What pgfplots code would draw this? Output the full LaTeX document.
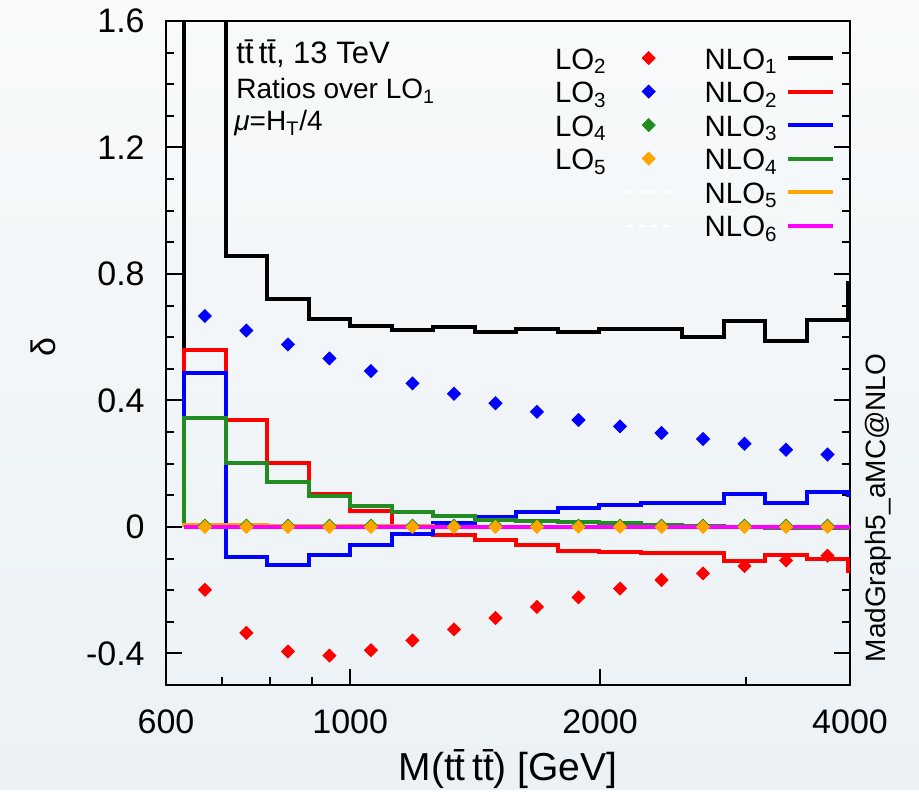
\documentclass[border=0pt]{standalone}
\usepackage{fontspec}
\setmainfont{Liberation Sans}
\usepackage{pgfplots}
\pgfplotsset{compat=1.18}

\definecolor{bgtop}{RGB}{248,250,251}
\definecolor{bgbot}{RGB}{235,241,245}
\definecolor{fgreen}{RGB}{34,139,34}
\definecolor{orng}{RGB}{255,165,0}
\definecolor{mag}{RGB}{255,0,255}

\pgfplotsset{
  lo/.style={only marks, mark=square*, mark size=2.3bp, mark options={rotate=45}},
  nlo/.style={const plot, line width=2bp,
    legend image code/.code={\draw[##1] (0bp,0bp) -- (22.5bp,0bp);}},
  blank/.style={white, dashed, line width=1bp,
    legend image code/.code={\draw[##1] (-2.5bp,0bp) -- (19.5bp,0bp);}},
}

\begin{document}
\begin{tikzpicture}
% page background, 1 px of the reference = 0.5bp
\shade[top color=bgtop, bottom color=bgbot] (-83bp,-52bp) rectangle (376.5bp,342.5bp);

\begin{axis}[
  scale only axis, width=342bp, height=332bp,
  xmode=log, xmin=600, xmax=4000, ymin=-0.5, ymax=1.6,
  xtick={600,1000,2000,4000}, xticklabels={600,1000,2000,4000},
  minor xtick={700,800,900,3000},
  ytick={-0.4,0,0.4,0.8,1.2,1.6}, yticklabels={-0.4,0,0.4,0.8,1.2,1.6},
  minor ytick={-0.3,-0.2,-0.1,0.1,0.2,0.3,0.5,0.6,0.7,0.9,1.0,1.1,1.3,1.4,1.5},
  xtick pos=left, ytick pos=both, yticklabel pos=left,
  tick align=inside,
  major tick length=8bp, minor tick length=4bp,
  axis line style={line width=1.2bp},
  every tick/.style={black, line width=1bp},
  tick label style={font=\fontsize{17bp}{20bp}\selectfont, inner sep=0pt},
  xticklabel style={anchor=base, yshift=-24bp},
  yticklabel style={anchor=east, xshift=-10.5bp},
  legend columns=6, transpose legend, legend plot pos=right, legend cell align=right,
  legend style={draw=none, fill=none, inner sep=0pt, at={(0.978,0.970)}, anchor=north east,
    font=\fontsize{14.7bp}{17.5bp}\selectfont,
    nodes={inner sep=0pt, text height=14bp, text depth=2.75bp},
    /tikz/column 1/.append style={column sep=9.5bp},
    /tikz/column 2/.append style={column sep=16.5bp},
    /tikz/column 3/.append style={column sep=4bp}},
]

% LO ratios, at bin centres
\addplot[lo, red] coordinates {
  (668.34,-0.199) (749.89,-0.335) (841.40,-0.394) (944.06,-0.407)
  (1059.25,-0.390) (1188.50,-0.359) (1333.52,-0.324) (1496.24,-0.288)
  (1678.80,-0.253) (1883.65,-0.223) (2113.49,-0.195) (2371.37,-0.168)
  (2660.73,-0.147) (2985.38,-0.124) (3349.65,-0.106) (3758.37,-0.091)
};
\addlegendentry{LO\textsubscript{2}}
\addplot[lo, blue] coordinates {
  (668.34,0.667) (749.89,0.621) (841.40,0.577) (944.06,0.533)
  (1059.25,0.493) (1188.50,0.454) (1333.52,0.421) (1496.24,0.391)
  (1678.80,0.364) (1883.65,0.338) (2113.49,0.318) (2371.37,0.297)
  (2660.73,0.278) (2985.38,0.263) (3349.65,0.244) (3758.37,0.229)
};
\addlegendentry{LO\textsubscript{3}}
\addplot[lo, fgreen] coordinates {
  (668.34,0.004) (749.89,0.004) (841.40,0.004) (944.06,0.004)
  (1059.25,0.004) (1188.50,0.004) (1333.52,0.004) (1496.24,0.004)
  (1678.80,0.004) (1883.65,0.004) (2113.49,0.004) (2371.37,0.004)
  (2660.73,0.004) (2985.38,0.004) (3349.65,0.004) (3758.37,0.004)
};
\addlegendentry{LO\textsubscript{4}}
\addplot[lo, orng] coordinates {
  (668.34,0.0) (749.89,0.0) (841.40,0.0) (944.06,0.0)
  (1059.25,0.0) (1188.50,0.0) (1333.52,0.0) (1496.24,0.0)
  (1678.80,0.0) (1883.65,0.0) (2113.49,0.0) (2371.37,0.0)
  (2660.73,0.0) (2985.38,0.0) (3349.65,0.0) (3758.37,0.0)
};
\addlegendentry{LO\textsubscript{5}}

% two empty legend slots
\addlegendimage{blank}
\addlegendentry{}
\addlegendimage{blank}
\addlegendentry{}

% NLO ratios, histograms with bin edges 10^(2.8+0.05k)
\addplot[nlo, black] coordinates {
  (630.96,0) (630.96,2.5) (707.95,0.858) (794.33,0.722) (891.25,0.659)
  (1000,0.635) (1122.02,0.622) (1258.93,0.633) (1412.54,0.618)
  (1584.89,0.627) (1778.28,0.616) (1995.26,0.625) (2238.72,0.625)
  (2511.89,0.601) (2818.38,0.651) (3162.28,0.588) (3548.13,0.654)
  (3981.07,0.77) (4466.84,0.77)
};
\addlegendentry{NLO\textsubscript{1}}
\addplot[nlo, red] coordinates {
  (630.96,0) (630.96,0.558) (707.95,0.338) (794.33,0.201) (891.25,0.104)
  (1000,0.050) (1122.02,0.002) (1258.93,-0.027) (1412.54,-0.042)
  (1584.89,-0.057) (1778.28,-0.075) (1995.26,-0.080) (2238.72,-0.083)
  (2511.89,-0.083) (2818.38,-0.109) (3162.28,-0.088) (3548.13,-0.101)
  (3981.07,-0.138) (4466.84,-0.138)
};
\addlegendentry{NLO\textsubscript{2}}
\addplot[nlo, blue] coordinates {
  (630.96,0) (630.96,0.488) (707.95,-0.096) (794.33,-0.119) (891.25,-0.088)
  (1000,-0.056) (1122.02,-0.022) (1258.93,0.011) (1412.54,0.031)
  (1584.89,0.046) (1778.28,0.059) (1995.26,0.070) (2238.72,0.076)
  (2511.89,0.076) (2818.38,0.104) (3162.28,0.076) (3548.13,0.109)
  (3981.07,0.100) (4466.84,0.100)
};
\addlegendentry{NLO\textsubscript{3}}
\addplot[nlo, fgreen] coordinates {
  (630.96,0) (630.96,0.346) (707.95,0.202) (794.33,0.141) (891.25,0.097)
  (1000,0.067) (1122.02,0.048) (1258.93,0.034) (1412.54,0.023)
  (1584.89,0.019) (1778.28,0.015) (1995.26,0.012) (2238.72,0.006)
  (2511.89,0.002) (2818.38,0.0) (3162.28,-0.004) (3548.13,-0.004)
  (3981.07,-0.004) (4466.84,-0.004)
};
\addlegendentry{NLO\textsubscript{4}}
\addplot[nlo, orng] coordinates {
  (630.96,0) (630.96,0.006) (707.95,0.005) (794.33,0.004) (891.25,0.003)
  (1000,0.002) (1122.02,0.002) (1258.93,0.001) (1412.54,0.001)
  (1584.89,0.0) (1778.28,0.0) (1995.26,0.0) (2238.72,0.0)
  (2511.89,0.0) (2818.38,0.0) (3162.28,0.0) (3548.13,0.0)
  (3981.07,0.0) (4466.84,0.0)
};
\addlegendentry{NLO\textsubscript{5}}
\addplot[nlo, mag] coordinates {
  (630.96,0) (707.95,0) (794.33,0) (891.25,0)
  (1000,0) (1122.02,0) (1258.93,0) (1412.54,0)
  (1584.89,0) (1778.28,0) (1995.26,0) (2238.72,0)
  (2511.89,0) (2818.38,0) (3162.28,0) (3548.13,0)
  (3981.07,0) (4466.84,0)
};
\addlegendentry{NLO\textsubscript{6}}
\end{axis}

% labels and annotations
\node[anchor=base west, inner sep=0pt, font=\fontsize{15.5bp}{18bp}\selectfont] at (35bp,310.5bp) {t\=t\,t\=t, 13 TeV};
\node[anchor=base west, inner sep=0pt, font=\fontsize{14bp}{16bp}\selectfont] at (35bp,293bp) {Ratios over LO\textsubscript{1}};
\node[anchor=base west, inner sep=0pt, font=\fontsize{14bp}{16bp}\selectfont] at (34bp,277bp) {\textit{μ}=H\textsubscript{T}/4};
\node[anchor=base, font=\fontsize{19.5bp}{22bp}\selectfont] at (171bp,-47.5bp) {M(t\=t\,t\=t) [GeV]};
\node[rotate=90, font=\fontsize{17bp}{20bp}\selectfont] at (-61.5bp,169bp) {δ};
\node[rotate=90, font=\fontsize{14bp}{17bp}\selectfont] at (356bp,88.5bp) {MadGraph5\_aMC@NLO};
\end{tikzpicture}
\end{document}
